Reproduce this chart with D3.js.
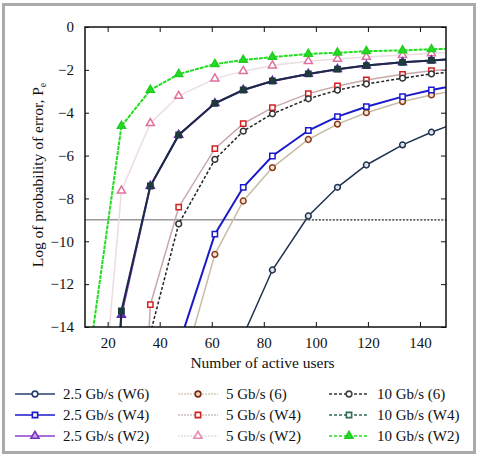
<!DOCTYPE html>
<html>
<head>
<meta charset="utf-8">
<script src="https://cdn.jsdelivr.net/npm/d3@7"></script>
<style>
  body { margin: 0; background: #fff; }
</style>
</head>
<body>
<div id="chart"></div>
<script>
// number of active users where the markers sit (first and last ones fall outside the axes)
var users = [14.2, 25.3, 36.4, 47.3, 61.2, 72.1, 83.3, 97.1, 108.3, 119.4, 133.3, 144.4, 155.5];

// log10 Pe for each series, null = no point
var r25W6 = [null, null, null, null, null, -14.4, -11.34, -8.82, -7.48, -6.44, -5.50, -4.91, -4.40];
var r25W4 = [null, null, null, -14.85, -9.67, -7.48, -6.02, -4.83, -4.18, -3.72, -3.25, -2.94, -2.68];
var r25W2 = [-35, -13.44, -7.42, -5.04, -3.56, -2.94, -2.52, -2.19, -1.97, -1.80, -1.65, -1.56, -1.47];
var r5W6  = [null, null, null, -16.6, -10.61, -8.12, -6.56, -5.25, -4.53, -4.00, -3.48, -3.17, -2.92];
var r5W4  = [null, -40, -12.96, -8.41, -5.68, -4.51, -3.76, -3.11, -2.75, -2.47, -2.21, -2.04, -1.93];
var r5W2  = [-23, -7.64, -4.49, -3.22, -2.41, -2.06, -1.80, -1.60, -1.49, -1.40, -1.31, -1.23, -1.16];
var r10W6 = [null, null, -14.3, -9.19, -6.18, -4.86, -4.05, -3.35, -2.95, -2.66, -2.39, -2.19, -2.06];
var r10W4 = [-35, -13.25, -7.42, -5.04, -3.56, -2.94, -2.52, -2.19, -1.97, -1.80, -1.65, -1.56, -1.47];
var r10W2 = [-14.3, -4.62, -2.94, -2.20, -1.73, -1.54, -1.40, -1.26, -1.20, -1.13, -1.09, -1.04, -1.00];

var xTicks = [20, 40, 60, 80, 100, 120, 140];
var yTicks = [0, -2, -4, -6, -8, -10, -12, -14];

// Pe = 1e-9 threshold and where it meets the 2.5 Gb/s (W6) curve
var threshold = -9;
var thresholdCross = 97.1;

var FONT = "'Liberation Serif', serif";

var series = [
  // drawn in this order (lightest first)
  {name: "5 Gb/s (W2)",   vals: r5W2,  line: "#ecdde2", dash: null,  w: 1.5, shape: "tri", stroke: "#e070a0", fill: "#fff"},
  {name: "5 Gb/s (6)",    vals: r5W6,  line: "#c9bca6", dash: null,  w: 1.5, shape: "circ", stroke: "#8b3a1a", fill: "#f3e3d0"},
  {name: "5 Gb/s (W4)",   vals: r5W4,  line: "#c9a8a8", dash: null,  w: 1.5, shape: "sq",  stroke: "#d42020", fill: "#fff"},
  {name: "10 Gb/s (6)",   vals: r10W6, line: "#222",    dash: "3,2", w: 1.5, shape: "circ", stroke: "#333",    fill: "#fff"},
  {name: "2.5 Gb/s (W4)", vals: r25W4, line: "#1a1acc", dash: null,  w: 2,   shape: "sq",  stroke: "#1a1acc", fill: "#fff"},
  {name: "2.5 Gb/s (W6)", vals: r25W6, line: "#1f3350", dash: null,  w: 1.5, shape: "circ", stroke: "#1f3350", fill: "#dfe4ee"},
  {name: "2.5 Gb/s (W2)", vals: r25W2, line: "#7a3fc8", dash: null,  w: 2,   shape: "tri", stroke: "#5a2fa8", fill: "#6a3fc0"},
  {name: "10 Gb/s (W4)",  vals: r10W4, line: "#1c2a44", dash: null,  w: 2,   shape: "sq",  stroke: "#1e3a3a", fill: "#1e3a3a"},
  {name: "10 Gb/s (W2)",  vals: r10W2, line: "#22dd22", dash: "4,1", w: 2,   shape: "tri", stroke: "#22cc22", fill: "#22dd22"}
];

// legend layout (columns as in the figure)
var legendOrder = [
  ["2.5 Gb/s (W6)", "2.5 Gb/s (W4)", "2.5 Gb/s (W2)"],
  ["5 Gb/s (6)", "5 Gb/s (W4)", "5 Gb/s (W2)"],
  ["10 Gb/s (6)", "10 Gb/s (W4)", "10 Gb/s (W2)"]
];
var legendStyle = {
  "2.5 Gb/s (W6)": {line: "#2a3f6e", dash: null, stroke: "#2a3f6e", fill: "#fff"},
  "2.5 Gb/s (W4)": {line: "#1a1acc", dash: null, stroke: "#1a1acc", fill: "#fff"},
  "2.5 Gb/s (W2)": {line: "#8a3fd0", dash: null, stroke: "#7a2fc0", fill: "#c9a8ee"},
  "5 Gb/s (6)":    {line: "#d8ceb8", dash: "2,1", stroke: "#7a2a10", fill: "#f0d8c0"},
  "5 Gb/s (W4)":   {line: "#d0c0c0", dash: "2,1", stroke: "#d42020", fill: "#fff"},
  "5 Gb/s (W2)":   {line: "#e8e0e0", dash: "2,1", stroke: "#e888b0", fill: "#fff"},
  "10 Gb/s (6)":   {line: "#333", dash: "3,2", stroke: "#444", fill: "#fff"},
  "10 Gb/s (W4)":  {line: "#2e6b50", dash: "3,2", stroke: "#2e6b50", fill: "#fff"},
  "10 Gb/s (W2)":  {line: "#22dd22", dash: "3,2", stroke: "#22cc22", fill: "#22dd22"}
};

var W = 480, H = 456;
var margin = {top: 27, right: 34, bottom: 129, left: 85};
var width = W - margin.left - margin.right;   // 361
var height = H - margin.top - margin.bottom;  // 300

var svg = d3.select("#chart").append("svg")
  .attr("width", W)
  .attr("height", H);

// outer gray frame
svg.append("rect")
  .attr("x", 3.5).attr("y", 4.5)
  .attr("width", 471).attr("height", 448)
  .attr("fill", "none")
  .attr("stroke", "#aaa")
  .attr("stroke-width", 3);

var g = svg.append("g")
  .attr("transform", "translate(" + margin.left + "," + margin.top + ")");

var x = d3.scaleLinear().domain([11.3, 150]).range([0, width]);
var y = d3.scaleLinear().domain([-14, 0]).range([height, 0]);

g.append("clipPath").attr("id", "clip")
  .append("rect").attr("width", width).attr("height", height);

// axes with inward ticks on all four sides
var xb = g.append("g").attr("transform", "translate(0," + height + ")")
  .call(d3.axisBottom(x).tickValues(xTicks).tickSize(-5).tickPadding(10));
var xt = g.append("g")
  .call(d3.axisTop(x).tickValues(xTicks).tickSize(-5).tickFormat(""));
var yl = g.append("g")
  .call(d3.axisLeft(y).tickValues(yTicks).tickSize(-4).tickPadding(11));
var yr = g.append("g").attr("transform", "translate(" + width + ",0)")
  .call(d3.axisRight(y).tickValues(yTicks).tickSize(-5).tickFormat(""));

[xb, xt, yl, yr].forEach(function(a) {
  a.attr("font-size", 15);
  a.select(".domain").remove();
  a.selectAll("line").attr("stroke", "#111").attr("stroke-width", 1);
  a.selectAll("text").attr("fill", "#111");
});

var plot = g.append("g").attr("clip-path", "url(#clip)");

// threshold line: gray up to the crossing, dotted black after
plot.append("line")
  .attr("x1", 0).attr("x2", x(thresholdCross))
  .attr("y1", y(threshold)).attr("y2", y(threshold))
  .attr("stroke", "#999").attr("stroke-width", 1.5);
plot.append("line")
  .attr("x1", x(thresholdCross)).attr("x2", width)
  .attr("y1", y(threshold)).attr("y2", y(threshold))
  .attr("stroke", "#222").attr("stroke-width", 1.2)
  .attr("stroke-dasharray", "2,1.5");

function symbolOf(shape) {
  if (shape === "sq") return d3.symbol().type(d3.symbolSquare).size(28);
  if (shape === "tri") return d3.symbol().type(d3.symbolTriangle).size(28);
  return d3.symbol().type(d3.symbolCircle).size(26);
}
var shapeOf = {};
series.forEach(function(s) { shapeOf[s.name] = s.shape; });

var line = d3.line()
  .defined(function(d) { return d.v !== null; })
  .x(function(d) { return x(d.u); })
  .y(function(d) { return y(d.v); });

series.forEach(function(s) {
  var pts = users.map(function(u, i) { return {u: u, v: s.vals[i]}; });
  plot.append("path")
    .datum(pts)
    .attr("fill", "none")
    .attr("stroke", s.line)
    .attr("stroke-width", s.w)
    .attr("stroke-dasharray", s.dash)
    .attr("d", line);
  plot.selectAll(null)
    .data(pts.filter(function(d) { return d.v !== null; }))
    .enter().append("path")
    .attr("d", symbolOf(s.shape))
    .attr("transform", function(d) { return "translate(" + x(d.u) + "," + y(d.v) + ")"; })
    .attr("fill", s.fill)
    .attr("stroke", s.stroke)
    .attr("stroke-width", 1.5);
});

// plot frame
g.append("rect")
  .attr("width", width).attr("height", height)
  .attr("fill", "none").attr("stroke", "#111").attr("stroke-width", 1.5);

// axis titles
g.append("text")
  .attr("x", width / 2 - 3)
  .attr("y", height + 41)
  .attr("text-anchor", "middle")
  .attr("font-size", "15.5px")
  .attr("fill", "#111")
  .text("Number of active users");

var yt = svg.append("text")
  .attr("transform", "translate(43," + (margin.top + height / 2 - 2) + ") rotate(-90)")
  .attr("text-anchor", "middle")
  .attr("font-size", "15.5px")
  .attr("fill", "#111");
yt.append("tspan").text("Log of probability of error, P");
yt.append("tspan").attr("font-size", "10px").attr("dy", "3").text("e");

// legend
var colX = [15, 178, 329];
var rowY = [394, 415, 436];
legendOrder.forEach(function(col, ci) {
  col.forEach(function(name, ri) {
    var st = legendStyle[name];
    var lg = svg.append("g").attr("transform", "translate(" + colX[ci] + "," + rowY[ri] + ")");
    lg.append("line")
      .attr("x1", 0).attr("x2", 40)
      .attr("stroke", st.line).attr("stroke-width", 1.6)
      .attr("stroke-dasharray", st.dash);
    lg.append("path")
      .attr("d", symbolOf(shapeOf[name]))
      .attr("transform", "translate(20,0)")
      .attr("fill", st.fill)
      .attr("stroke", st.stroke)
      .attr("stroke-width", 1.6);
    lg.append("text")
      .attr("x", 48).attr("y", 5)
      .attr("font-size", "15px")
      .attr("fill", "#111")
      .text(name);
  });
});

// serif everywhere (inline style so it wins over d3's axis font attribute)
svg.selectAll("text").style("font-family", FONT);
</script>
</body>
</html>
